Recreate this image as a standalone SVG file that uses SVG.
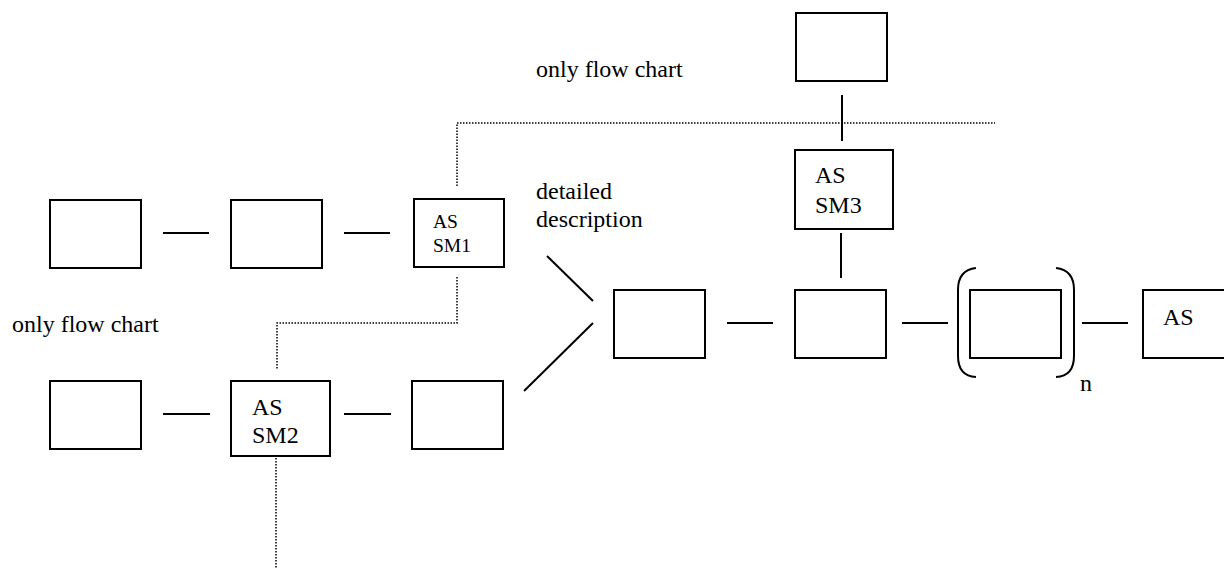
<svg xmlns="http://www.w3.org/2000/svg" width="1224" height="570" viewBox="0 0 1224 570">
<style>
.box{fill:#fff;stroke:#000;stroke-width:2}
.ln{stroke:#000;stroke-width:2;fill:none}
.dot{stroke:#000;stroke-width:1.5;fill:none;stroke-dasharray:1.5 1.5}
text{font-family:"Liberation Serif","Times New Roman",serif;fill:#000;font-size:24px}
.sm{font-size:19.5px}
</style>
<rect width="1224" height="570" fill="#fff"/>
<g id="connectors">
<line class="ln" x1="163" y1="233" x2="209" y2="233"/>
<line class="ln" x1="344" y1="233" x2="390" y2="233"/>
<line class="ln" x1="163" y1="414" x2="210" y2="414"/>
<line class="ln" x1="344" y1="414" x2="391" y2="414"/>
<line class="ln" x1="727" y1="323" x2="773" y2="323"/>
<line class="ln" x1="902" y1="323" x2="948" y2="323"/>
<line class="ln" x1="1082" y1="323" x2="1128" y2="323"/>
<line class="ln" x1="842" y1="95" x2="842" y2="141"/>
<line class="ln" x1="841" y1="233" x2="841" y2="278"/>
<line class="ln" x1="547" y1="256" x2="593" y2="301"/>
<line class="ln" x1="524" y1="391" x2="593" y2="323"/>
<path class="dot" d="M457,186 V123 H995"/>
<path class="dot" d="M457,277 V323 H277 V370"/>
<path class="dot" d="M276,458 V568"/>
<path class="ln" d="M976,268 Q958,270 958,290 L958,356 Q958,376 976,377"/>
<path class="ln" d="M1056,268 Q1074,270 1074,290 L1074,356 Q1074,376 1056,377"/>
</g>
<g id="n-top"><rect class="box" x="796" y="13" width="91" height="68"/></g>
<g id="n-sm3"><rect class="box" x="795" y="150" width="98" height="79"/><text x="815" y="183">AS</text><text x="815" y="213">SM3</text></g>
<g id="n-r1a"><rect class="box" x="50" y="200" width="91" height="68"/></g>
<g id="n-r1b"><rect class="box" x="231" y="200" width="91" height="68"/></g>
<g id="n-sm1"><rect class="box" x="414" y="199" width="90" height="68"/><text class="sm" x="433" y="228">AS</text><text class="sm" x="433" y="252">SM1</text></g>
<g id="n-r2a"><rect class="box" x="50" y="381" width="91" height="68"/></g>
<g id="n-sm2"><rect class="box" x="231" y="381" width="99" height="75"/><text x="252" y="415">AS</text><text x="252" y="443">SM2</text></g>
<g id="n-r2c"><rect class="box" x="412" y="381" width="91" height="68"/></g>
<g id="n-ma"><rect class="box" x="614" y="290" width="91" height="68"/></g>
<g id="n-mb"><rect class="box" x="795" y="290" width="91" height="68"/></g>
<g id="n-mc"><rect class="box" x="970" y="290" width="91" height="68"/></g>
<g id="n-md"><rect class="box" x="1143" y="290" width="91" height="68"/><text x="1163" y="325">AS</text></g>
<g id="labels">
<text x="536" y="77">only flow chart</text>
<text x="536" y="199">detailed</text>
<text x="536" y="227">description</text>
<text x="12" y="332">only flow chart</text>
<text x="1080" y="391">n</text>
</g>
</svg>
